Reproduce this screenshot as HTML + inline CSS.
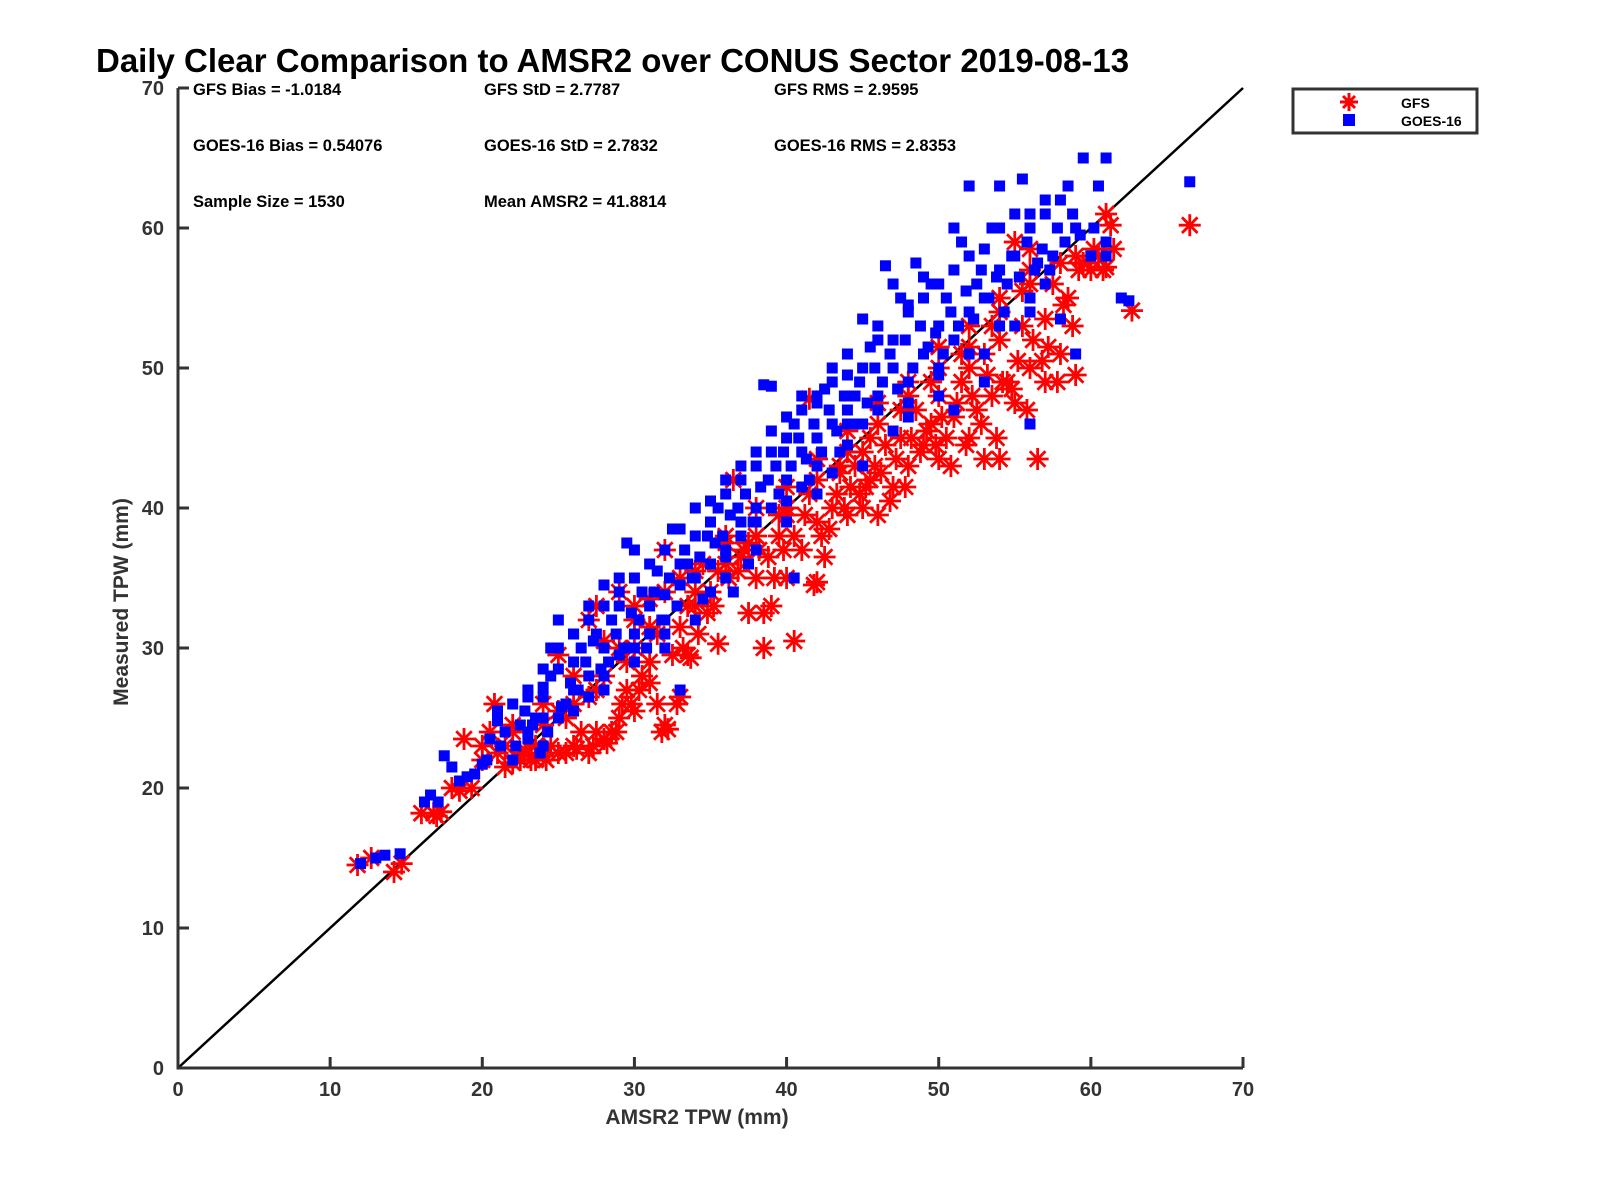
<!DOCTYPE html>
<html><head><meta charset="utf-8"><style>
body{margin:0;background:#fff}
svg{display:block;font-family:"Liberation Sans",sans-serif}
</style></head><body>
<svg id="c" width="1600" height="1200" viewBox="0 0 1600 1200">
<rect width="1600" height="1200" fill="#fff"/>
<text x="96" y="72" font-size="33" font-weight="bold" fill="#000">Daily Clear Comparison to AMSR2 over CONUS Sector 2019-08-13</text>
<g font-size="16.5" font-weight="bold" fill="#000">
<text x="193" y="95">GFS Bias = -1.0184</text>
<text x="484" y="95">GFS StD = 2.7787</text>
<text x="774" y="95">GFS RMS = 2.9595</text>
<text x="193" y="151">GOES-16 Bias = 0.54076</text>
<text x="484" y="151">GOES-16 StD = 2.7832</text>
<text x="774" y="151">GOES-16 RMS = 2.8353</text>
<text x="193" y="207">Sample Size = 1530</text>
<text x="484" y="207">Mean AMSR2 = 41.8814</text>
</g>
<g id="marks"></g>
<g id="axes"></g>
<g>
<rect x="1293" y="89" width="184" height="44" fill="#fff" stroke="#333" stroke-width="3"/>
<g stroke="#f00" stroke-width="3">
<line x1="1349" y1="93" x2="1349" y2="111"/><line x1="1340" y1="102" x2="1358" y2="102"/>
<line x1="1343" y1="96" x2="1355" y2="108"/><line x1="1343" y1="108" x2="1355" y2="96"/></g>
<rect x="1343" y="114" width="12" height="12" fill="#00f"/>
<text x="1401" y="108" font-size="14" font-weight="bold">GFS</text>
<text x="1401" y="126" font-size="14" font-weight="bold">GOES-16</text>
</g>
<text x="697" y="1124" font-size="21" font-weight="bold" fill="#333" text-anchor="middle">AMSR2 TPW (mm)</text>
<text transform="translate(128,602) rotate(-90)" font-size="21" font-weight="bold" fill="#333" text-anchor="middle">Measured TPW (mm)</text>
</svg>
<script>
const ticks=[0,10,20,30,40,50,60,70];
const gfsData=[[11.8,14.5],[12.7,15],[14.2,14],[14.7,14.6],[16,18.2],[16.8,18.2],[17.3,18.3],[18,20],[18.8,23.5],[19.3,20],[20,22],[20.8,26],[21.5,23],[22,24],[22.5,22],[23,22.5],[23.5,22],[24,22.3],[24.5,23],[25,29.5],[25,22.5],[26,23],[26.5,24],[27,22.5],[27.5,33],[27.5,24],[28,23.5],[28.5,24],[29,25],[29,30],[29.5,27],[30,25.5],[30,33],[30.5,28],[31,29],[31.5,26],[32,24.5],[32,37],[32.5,29.5],[33,26.5],[33,35],[33.5,29.5],[34,33],[34.5,36],[35,34],[35.5,30.3],[36,38],[36.5,42],[37,36.5],[37.5,32.5],[38,35],[38.5,32.5],[38.5,30],[39,33],[39.5,38],[40,35],[40,40],[40.5,30.5],[41,37],[41.5,47.8],[42,34.7],[42,39],[42.5,36.5],[43,40],[43.5,42.5],[44,39.5],[44.5,43],[45,40],[45,44],[45.5,42],[46,39.5],[46.5,44.5],[47,41.5],[47.5,45],[48,43],[48.5,47],[49,44.5],[49.5,46],[50,43.5],[50,48],[50.5,45],[51,46.5],[51.5,49],[52,45],[52,50],[52.5,47],[53,43.5],[53,51],[53.5,48],[54,43.5],[54,52],[54.5,49],[55,59],[55,47.5],[55.5,53],[56,58.5],[56,50],[56.5,43.5],[57,53.5],[57,49],[57.5,56],[58,51],[58,57.5],[58.5,55],[59,49.5],[59,58],[59.5,57.5],[60,57],[60.5,58],[61,61],[61,57.2],[61.5,58.5],[62.7,54.1],[66.5,60.2],[36,36],[34,34],[31,31.5],[28,28],[26,26],[24,24.5],[38,38],[40,39.5],[42,42],[44,44],[46,46],[48,48],[50,50],[52,51.5],[54,54],[56,56],[33,31.5],[30,30],[27,26.5],[25,25.5],
[17,18],[18.5,19.8],[20.5,24],[21,22.5],[22,21.8],[22.8,22.5],[23.2,22],[24.2,22],[25.5,22.5],[26.2,22.8],[27.3,23],[28.2,23.2],[28.8,24],[29.2,26],[29.8,26],[30.3,27],[31,27.5],[31.8,24],[32.2,24.2],[32.8,26],[33.2,30],[33.7,29.3],[34.2,31],[34.8,32.5],[35.2,33],[36.2,35],[36.8,35.5],[37.2,37],[38.2,37],[38.8,36.5],[39.2,35],[39.8,37],[40.5,38],[41.2,39.5],[41.8,34.5],[42.3,38],[42.8,38.5],[43.3,41],[43.8,40],[44.2,41.5],[44.8,41],[45.2,41.5],[45.8,43],[46.2,42.5],[46.8,40.5],[47.2,43.5],[47.8,41.5],[48.2,45],[48.8,44],[49.2,45.5],[49.8,44.5],[50.2,46.5],[50.8,43],[51.2,47.5],[51.8,44.5],[52.2,48],[52.8,46],[53.2,49.5],[53.8,45],[54.2,49],[54.8,48.5],[55.2,50.5],[55.8,47],[56.2,52],[56.8,50.5],[57.2,51.5],[57.8,49],[58.2,54.5],[58.8,53],[59.2,57],[59.8,57.5],[60.2,58.5],[60.8,57],[61.3,60.2],[55.5,55.5],[53.5,53],[51.5,51],[49.5,49],[47.5,47],[45.5,45],[43.5,43],[41.5,41],[39.5,39.5],[37.5,37.5],[35.5,35.5],[33.5,33],[31.5,31],[29.5,29],[27.5,27],[25.5,25],[23.5,23],[21.5,21.5],[30,32],[28,30.5],[26,28],[32,34],[34,35.5],[36,37.5],[38,40],[40,41.5],[42,43.5],[44,45.5],[46,47.5],[48,49],[50,51.5],[52,53],[54,55],[56,57],[27,32],[29,34],[31,33.5],[24,26],[22,24.5],[20,23]];
const goesData=[[12,14.6],[13,15],[13.6,15.2],[14.6,15.3],[16.2,19],[16.6,19.5],[17.1,19],[17.5,22.3],[18,21.5],[18.5,20.5],[19,20.8],[19.5,21],[20,21.7],[20.5,23.5],[21,25.5],[21,24.8],[21.5,24],[22,26],[22.5,24.5],[23,26.5],[23,23.5],[23.5,25],[24,26.5],[24,27.2],[24.5,28],[24.5,30],[25,32],[25,28.5],[25.5,26],[26,29],[26,31],[26.5,30],[27,33],[27,28],[27.5,31],[28,34.5],[28,30],[28.5,32],[29,35],[29,33],[29.5,37.5],[30,37],[30,31],[30.5,34],[31,33],[31.5,35.5],[32,33.8],[32,30],[32.5,38.5],[33,36],[33,27],[33.5,36],[34,38],[34.5,33.5],[35,39],[35,36],[35.5,40],[36,37],[36,41],[36.5,34],[37,39],[37,42],[37.5,36],[38,43],[38,40],[38.5,48.8],[39,44],[39,48.7],[39.5,41],[40,45],[40,42],[40.5,35],[40.5,46],[41,44],[41,47],[41.5,42],[42,47.5],[42,45],[42.5,48.5],[43,46],[43,49],[43.5,44],[44,49.5],[44,47],[44.5,48],[45,50],[45,46],[45.5,51.5],[46,48],[46,53],[46.5,57.3],[47,50],[47,52],[47.5,55],[48,49],[48,54],[48.5,57.5],[49,51],[49,55],[49.5,56],[50,53],[50,50],[50.5,55],[51,57],[51,52],[51.5,59],[52,54],[52,63],[52.5,56],[53,55],[53,51],[53.5,60],[54,57],[54,63],[54.5,56],[55,58],[55,53],[55.5,63.5],[56,60],[56,55],[56.5,57.5],[57,61],[57,56],[57.5,58],[58,62],[58,53.5],[58.5,63],[59,60],[59,51],[59.5,65],[60,58],[60.5,63],[61,65],[61,59],[62,55],[66.5,63.3],[56,46],[50,48],[48,46.5],[44,44.5],[42,41],[40,39],[38,37],[36,35],[34,32],[32,32],[30,29],[28,27],[26,25.5],[24,23],[22,22],[53,49],[51,47],[47,45.5],[45,43],[43,42.5],[41,41.5],[39,40],[37,38],[35,34],[33,34.5],[31,31],[29,29.5],[27,26.5],[25,25],[23,24],
[20.3,22],[21.2,23],[22.2,23],[22.8,25.5],[23.3,24.5],[23.8,22.5],[24.3,24],[25.2,25.8],[25.8,27.5],[26.3,27],[26.8,29],[27.3,30.5],[27.8,28.5],[28.3,29],[28.8,31],[29.3,30],[29.8,32.5],[30.3,32],[30.8,30],[31.3,34],[31.8,32],[32.3,35],[32.8,33],[33.3,37],[33.8,35],[34.3,36.5],[34.8,38],[35.3,37.5],[35.8,38],[36.3,39.5],[36.8,40],[37.3,41],[37.8,39],[38.3,41.5],[38.8,42],[39.3,43],[39.8,44],[40.3,43],[40.8,45],[41.3,43.5],[41.8,46],[42.3,44],[42.8,47],[43.3,45.5],[43.8,48],[44.3,46],[44.8,49],[45.3,47.5],[45.8,50],[46.3,49],[46.8,51],[47.3,48.5],[47.8,52],[48.3,50],[48.8,53],[49.3,51.5],[49.8,52.5],[50.3,51],[50.8,54],[51.3,53],[51.8,55.5],[52.3,53.5],[52.8,57],[53.3,55],[53.8,56.5],[54.3,54],[54.8,58],[55.3,56.5],[55.8,59],[56.3,57],[56.8,58.5],[57.3,57],[57.8,60],[58.3,59],[58.8,61],[59.3,59.5],[60.2,60],[61,58],[62.5,54.8],[57,62],[55,61],[53,58.5],[51,60],[49,56.5],[47,56],[45,53.5],[43,50],[41,48],[39,45.5],[37,43],[35,40.5],[33,38.5],[31,36],[29,34],[27,32],[25,30],[23,27],[21,25],[50,56],[52,58],[54,60],[56,61],[48,54.5],[46,52],[44,51],[42,48],[40,46.5],[38,44],[36,42],[34,40],[32,37],[30,35],[28,33],[26,31],[24,28.5],[46,47],[48,47.5],[50,49.5],[52,51],[54,53],[56,54],[44,46],[42,43],[40,40.5],[38,39],[36,36.5],[34,35],[32,31],[30,30],[28,28],[26,27],[24,25]];
const X0=178,X1=1243,Y0=1068,Y1=88;
const sx=v=>X0+(v-0)/70*(X1-X0);
const sy=v=>Y0-(v-0)/70*(Y0-Y1);
const NS="http://www.w3.org/2000/svg";
function mk(t,a,p){const e=document.createElementNS(NS,t);for(const k in a)e.setAttribute(k,a[k]);p.appendChild(e);return e;}
const marks=document.getElementById('marks'),axes=document.getElementById('axes');
const diag=mk('line',{x1:sx(0),y1:sy(0),x2:sx(70),y2:sy(70),stroke:'#000','stroke-width':2.5},marks);


const gg=mk('g',{stroke:'#f00','stroke-width':2.8},marks);


gfsData.forEach(d=>{const x=sx(d[0]),y=sy(d[1]),r=11,q=7.8;
const g=mk('g',{},gg);


mk('line',{x1:x,y1:y-r,x2:x,y2:y+r},g);mk('line',{x1:x-r,y1:y,x2:x+r,y2:y},g);
mk('line',{x1:x-q,y1:y-q,x2:x+q,y2:y+q},g);mk('line',{x1:x-q,y1:y+q,x2:x+q,y2:y-q},g);});
const bg=mk('g',{fill:'#00f'},marks);


goesData.forEach(d=>{const r=mk('rect',{x:sx(d[0])-5.5,y:sy(d[1])-5.5,width:11,height:11},bg);

});
const ax=mk('path',{d:`M${X0},${Y1}V${Y0}H${X1}`,fill:'none',stroke:'#333','stroke-width':3},axes);


ticks.forEach(t=>{
mk('line',{x1:X0,y1:sy(t),x2:X0+11,y2:sy(t),stroke:'#333','stroke-width':3},axes);
mk('line',{x1:sx(t),y1:Y0,x2:sx(t),y2:Y0-11,stroke:'#333','stroke-width':3},axes);
const a=mk('text',{x:X0-14,y:sy(t)+7,'font-size':20,'font-weight':'bold',fill:'#333','text-anchor':'end'},axes);a.textContent=t;


const b=mk('text',{x:sx(t),y:Y0+28,'font-size':20,'font-weight':'bold',fill:'#333','text-anchor':'middle'},axes);b.textContent=t;


});
</script>
</body></html>
